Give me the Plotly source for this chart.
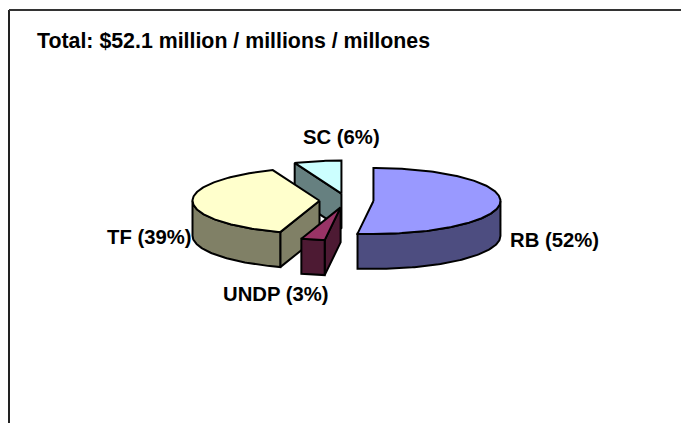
import math
import plotly.graph_objects as go

# budget split, clockwise from 12 o'clock
labels = ['RB', 'UNDP', 'TF', 'SC']
shares = [52, 3, 39, 6]
top_colors = ['#9999FF', '#993366', '#FFFFCC', '#CCFFFF']
side_colors = ['#4D4D80', '#4D1A33', '#808066', '#668080']
title_text = 'Total: $52.1 million / millions / millones'

W, H = 681, 423
CX, CY = 346.5, 200.5   # pie centre in pixels
RX, RY = 127, 33      # ellipse radii
DEPTH = 35
EXPLODE = 27


def pt(cx, cy, ang, drop=0):
    a = math.radians(ang)
    return cx + RX * math.sin(a), cy - RY * math.cos(a) + drop


def arc(cx, cy, a0, a1, drop=0):
    n = max(2, int(abs(a1 - a0)) + 1)
    return [pt(cx, cy, a0 + (a1 - a0) * i / (n - 1), drop) for i in range(n)]


def poly(fig, pts, color):
    xs = [p[0] for p in pts] + [pts[0][0]]
    ys = [p[1] for p in pts] + [pts[0][1]]
    fig.add_trace(go.Scatter(x=xs, y=ys, mode='lines', fill='toself', fillcolor=color,
                             line=dict(color='black', width=2), hoverinfo='skip',
                             showlegend=False))


# work out the angles of each slice
total = sum(shares)
slices = []
start = 0
for i, s in enumerate(shares):
    end = start + 360 * s / total
    mid = math.radians((start + end) / 2)
    cx = CX + EXPLODE * math.sin(mid)
    cy = CY - EXPLODE * RY / RX * math.cos(mid)
    slices.append((i, start, end, cx, cy))
    start = end

fig = go.Figure()

# back to front: SC, RB, TF, UNDP
for i, a0, a1, cx, cy in [slices[3], slices[0], slices[2], slices[1]]:
    top, side = top_colors[i], side_colors[i]
    # cut faces that look toward the viewer
    for ang, sign in ((a0, -1), (a1, 1)):
        if sign * math.sin(math.radians(ang)) > 0.05:
            p = pt(cx, cy, ang)
            poly(fig, [(cx, cy), p, (p[0], p[1] + DEPTH), (cx, cy + DEPTH)], side)
    # outer wall, only the front half shows
    w0, w1 = max(a0, 90), min(a1, 270)
    if w1 > w0:
        poly(fig, arc(cx, cy, w0, w1) + arc(cx, cy, w1, w0, DEPTH), side)
    poly(fig, [(cx, cy)] + arc(cx, cy, a0, a1), top)

label_pos = {'RB': (554, 240), 'UNDP': (276, 293.5), 'TF': (149, 236.5), 'SC': (341, 137)}
annotations = [dict(x=label_pos[n][0], y=label_pos[n][1], text=f'<b>{n} ({s}%)</b>', showarrow=False,
                    xref='x', yref='y', xanchor='center', yanchor='middle',
                    font=dict(family='Liberation Sans', size=20.3, color='black'))
               for n, s in zip(labels, shares)]
annotations.append(dict(x=35, y=40.5, text=f'<b>{title_text}</b>', showarrow=False, xref='x', yref='y',
                        xanchor='left', yanchor='middle',
                        font=dict(family='Liberation Sans', size=21.33, color='black')))

# chart frame, open at the bottom and right because the picture is cropped
fig.add_shape(type='line', x0=9, x1=9, y0=10, y1=H, line=dict(color='#222222', width=2))
fig.add_shape(type='line', x0=9, x1=W, y0=10, y1=10, line=dict(color='#333333', width=2))

fig.update_layout(
    width=W, height=H,
    margin=dict(l=0, r=0, t=0, b=0),
    paper_bgcolor='white', plot_bgcolor='white',
    showlegend=False,
    annotations=annotations,
    xaxis=dict(range=[0, W], visible=False, fixedrange=True),
    yaxis=dict(range=[H, 0], visible=False, fixedrange=True),
)
fig.write_html('out.html', config=dict(displayModeBar=False),
               post_script="document.body.style.margin='0';")
